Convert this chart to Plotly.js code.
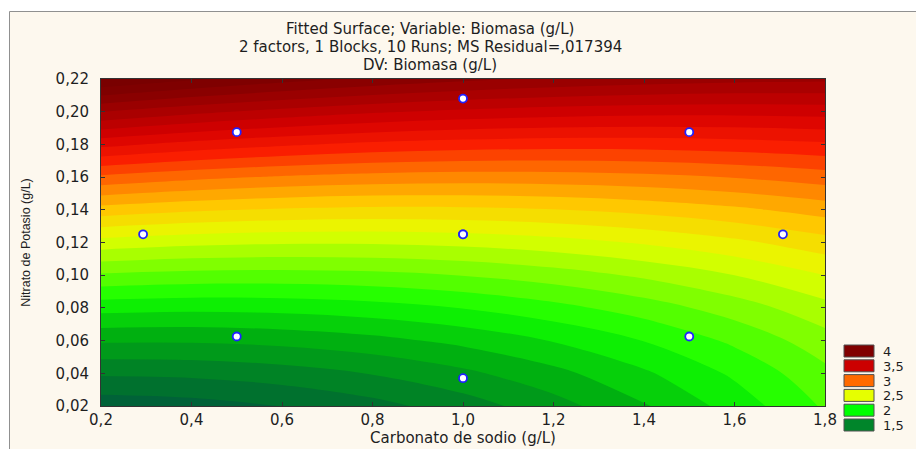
<!DOCTYPE html>
<html>
<head>
<meta charset="utf-8">
<script src="https://cdn.plot.ly/plotly-3.0.1.min.js"></script>
<style>
  html, body { margin: 0; padding: 0; background: #ffffff; }
  #chart { width: 916px; height: 449px; }
</style>
</head>
<body>
<div id="chart"></div>
<script>
// ---------------- data ----------------
const titleLines = [
  'Fitted Surface; Variable: Biomasa (g/L)',
  '2 factors, 1 Blocks, 10 Runs; MS Residual=,017394',
  'DV: Biomasa (g/L)'
];
const xAxisTitle = 'Carbonato de sodio (g/L)';
const yAxisTitle = 'Nitrato de Potasio (g/L)';

// grid of the fitted surface
const carbonato = [0.2, 0.4, 0.6, 0.8, 1.0, 1.2, 1.4, 1.6, 1.8];
const nitrato = [0.02, 0.04, 0.06, 0.08, 0.10, 0.12, 0.14, 0.16, 0.18, 0.20, 0.22];
const biomasa = [
  [1.340, 1.359, 1.402, 1.465, 1.551, 1.659, 1.789, 1.941, 2.114],
  [1.514, 1.523, 1.554, 1.605, 1.677, 1.770, 1.884, 2.018, 2.174],
  [1.713, 1.712, 1.731, 1.769, 1.827, 1.906, 2.003, 2.121, 2.258],
  [1.937, 1.925, 1.933, 1.958, 2.003, 2.066, 2.148, 2.248, 2.366],
  [2.186, 2.164, 2.160, 2.172, 2.203, 2.251, 2.317, 2.400, 2.500],
  [2.460, 2.427, 2.411, 2.411, 2.428, 2.461, 2.511, 2.576, 2.658],
  [2.758, 2.715, 2.688, 2.675, 2.678, 2.696, 2.730, 2.778, 2.842],
  [3.081, 3.028, 2.989, 2.963, 2.952, 2.956, 2.973, 3.004, 3.050],
  [3.429, 3.365, 3.315, 3.276, 3.252, 3.240, 3.241, 3.256, 3.282],
  [3.802, 3.727, 3.666, 3.614, 3.576, 3.549, 3.535, 3.531, 3.540],
  [4.200, 4.115, 4.041, 3.977, 3.925, 3.883, 3.853, 3.832, 3.822]
];

// experimental runs
const runCarbonato = [0.5, 1.5, 0.5, 1.5, 0.293, 1.707, 1.0, 1.0, 1.0, 1.0];
const runNitrato = [0.0625, 0.0625, 0.1875, 0.1875, 0.125, 0.125, 0.037, 0.208, 0.125, 0.125];

// axis ticks
const xTickVals = [0.2, 0.4, 0.6, 0.8, 1.0, 1.2, 1.4, 1.6, 1.8];
const xTickText = ['0,2', '0,4', '0,6', '0,8', '1,0', '1,2', '1,4', '1,6', '1,8'];
const yTickVals = [0.02, 0.04, 0.06, 0.08, 0.10, 0.12, 0.14, 0.16, 0.18, 0.20, 0.22];
const yTickText = ['0,02', '0,04', '0,06', '0,08', '0,10', '0,12', '0,14', '0,16', '0,18', '0,20', '0,22'];

// legend
const legendLevels = ['4', '3,5', '3', '2,5', '2', '1,5'];

// ---------------- style ----------------
const legendColors = ['#800000', '#CC0000', '#FF6A00', '#E6FF00', '#00FF00', '#00852A'];
const zMin = 1.3, zMax = 4.2;
const scaleVals = [1.3, 1.5, 1.75, 2.0, 2.25, 2.5, 2.75, 3.0, 3.25, 3.5, 3.75, 4.0, 4.2];
const scaleCols = ['#005a3c', '#00782a', '#00b010', '#10ff00', '#80ff00', '#e6ff00', '#ffc800',
                   '#ff7800', '#fa1e00', '#d70000', '#aa0000', '#820000', '#760000'];
const colorscale = scaleVals.map((v, i) => [(v - zMin) / (zMax - zMin), scaleCols[i]]);

const W = 916, H = 449;
const L = 101, R = 825, T = 79, B = 406;
const pw = R - L, ph = B - T;
const px2x = px => (px - L) / pw;
const py2y = py => (B - py) / ph;

const fontFam = 'DejaVu Sans, Liberation Sans, Arial, sans-serif';
const txtCol = '#1e1e1e';

const traces = [
  {
    type: 'contour',
    x: carbonato,
    y: nitrato,
    z: biomasa,
    colorscale: colorscale,
    zauto: false, zmin: zMin, zmax: zMax,
    autocontour: false,
    contours: { start: 1.2, end: 4.4, size: 0.1, coloring: 'fill', showlines: false },
    line: { width: 0, smoothing: 1 },
    showscale: false,
    hoverinfo: 'skip'
  },
  {
    type: 'scatter',
    mode: 'markers',
    x: runCarbonato,
    y: runNitrato,
    marker: { symbol: 'circle', size: 8, color: '#ffffff', line: { color: '#2020ff', width: 1.8 } },
    showlegend: false,
    hoverinfo: 'skip'
  }
];

const shapes = [
  { type: 'rect', xref: 'paper', yref: 'paper', layer: 'below',
    x0: px2x(9.5), x1: px2x(930), y0: py2y(460), y1: py2y(11.5),
    fillcolor: '#fdf8ee', line: { color: '#909090', width: 1 } }
];
const annotations = [];

// title lines
const titleCentersY = [29, 47, 65];
titleLines.forEach((t, i) => {
  annotations.push({ xref: 'paper', yref: 'paper', x: px2x(430), y: py2y(titleCentersY[i]),
    xanchor: 'center', yanchor: 'middle', showarrow: false, text: t,
    font: { family: fontFam, size: 15, color: txtCol } });
});

// legend
const rowPitch = 14.8;
legendLevels.forEach((lab, i) => {
  const top = 345 + i * rowPitch;
  shapes.push({ type: 'rect', xref: 'paper', yref: 'paper',
    x0: px2x(844), x1: px2x(874), y0: py2y(top + 12), y1: py2y(top),
    fillcolor: legendColors[i], line: { color: '#505050', width: 1 } });
  annotations.push({ xref: 'paper', yref: 'paper', x: px2x(881), y: py2y(top + 6.5),
    xanchor: 'left', yanchor: 'middle', showarrow: false, text: lab,
    font: { family: fontFam, size: 13, color: txtCol } });
});

const layout = {
  width: W, height: H,
  margin: { l: L, r: W - R, t: T, b: H - B, pad: 0 },
  paper_bgcolor: '#ffffff',
  plot_bgcolor: 'rgba(0,0,0,0)',
  showlegend: false,
  font: { family: fontFam, size: 14, color: txtCol },
  xaxis: {
    range: [0.2, 1.8],
    tickmode: 'array', tickvals: xTickVals, ticktext: xTickText,
    ticks: 'inside', ticklen: 4, tickcolor: '#333333', tickwidth: 1,
    mirror: 'ticks', showline: true, linecolor: '#333333', linewidth: 1,
    showgrid: false, zeroline: false,
    tickfont: { family: fontFam, size: 15, color: txtCol },
    title: { text: xAxisTitle, font: { family: fontFam, size: 15, color: txtCol }, standoff: 4 }
  },
  yaxis: {
    range: [0.02, 0.22],
    tickmode: 'array', tickvals: yTickVals, ticktext: yTickText,
    ticks: 'inside', ticklen: 4, tickcolor: '#333333', tickwidth: 1,
    mirror: 'ticks', showline: true, linecolor: '#333333', linewidth: 1,
    showgrid: false, zeroline: false,
    ticklabelstandoff: 8,
    tickfont: { family: fontFam, size: 15, color: txtCol },
    title: { text: yAxisTitle, font: { family: 'Liberation Sans Narrow, Liberation Sans, Arial, sans-serif', size: 12.5, color: txtCol }, standoff: 22 }
  },
  shapes: shapes,
  annotations: annotations
};

Plotly.newPlot('chart', traces, layout, { displayModeBar: false, staticPlot: true });
</script>
</body>
</html>
